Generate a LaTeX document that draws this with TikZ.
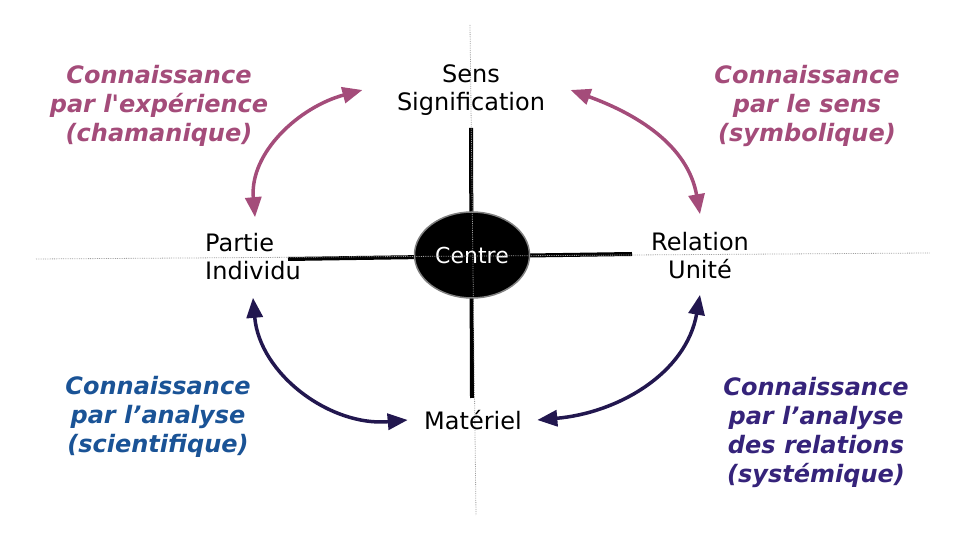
\documentclass[tikz,border=0pt]{standalone}
\usepackage{fontspec}
\setmainfont{DejaVu Sans}
\usetikzlibrary{arrows.meta,positioning,shapes.geometric}
\definecolor{Pk}{HTML}{A44C7A}
\definecolor{Bl}{HTML}{1A5396}
\definecolor{Pu}{HTML}{35237A}
\definecolor{Nv}{HTML}{22174F}
\definecolor{faint}{HTML}{A0A0A0}
\tikzset{
  lbl/.style={font=\fontsize{24}{28}\selectfont, align=center},
  know/.style={font=\fontsize{24}{29}\selectfont\bfseries\itshape, align=center},
  cross/.style={line width=4pt, black},
  guide/.style={faint, densely dotted, line width=0.8pt},
  core/.style={ellipse, fill=black, draw=gray, line width=1.5pt, minimum width=115pt,
    minimum height=86pt, text=white, font=\fontsize{22}{26}\selectfont},
  tip/.tip={Triangle[length=20pt, width=16pt]},
  pklink/.style={tip-tip, line width=3.5pt, Pk},
  nvlink/.style={tip-tip, line width=3.5pt, Nv},
}

\begin{document}
\begin{tikzpicture}[x=1pt, y=1pt]
  \useasboundingbox (0,0) rectangle (960,540);
  \draw[cross] (471,412) -- (472,142);
  \draw[cross] (288,281) -- (632,286);
  \node[core] (centre) at (472,285) {Centre};
  \draw[guide] (36,281) -- (930,287);
  \draw[guide] (470,515) -- (476,25);
  \node[lbl] (sens) at (471,450) {Sens\\Signification};
  \node[lbl, align=left] (partie) at (253,283) {Partie\\Individu};
  \node[lbl] (relation) at (700,284) {Relation\\Unité};
  \node[lbl] (materiel) at (473,120) {Matériel};
  \node[know, Pk] (exp) at (159,434) {Connaissance\\par l\textquotesingle expérience\\(chamanique)};
  \node[know, Pk] (sym) at (807,434) {Connaissance\\par le sens\\(symbolique)};
  \node[know, Bl] (sci) at (158,123) {Connaissance\\par l’analyse\\(scientifique)};
  \node[know, Pu] (sys) at (816,108) {Connaissance\\par l’analyse\\des relations\\(systémique)};
  \draw[pklink] ([xshift=2pt, yshift=13pt]partie.north) to[out=95, in=195] ([xshift=-31pt]sens.west);
  \draw[pklink] ([xshift=22pt]sens.east) to[out=-20, in=100] ([yshift=15pt]relation.north);
  \draw[nvlink] ([yshift=-14pt]partie.south) to[out=-85, in=185] ([xshift=-13pt]materiel.west);
  \draw[nvlink] ([xshift=12pt]materiel.east) to[out=5, in=-100] ([yshift=-12pt]relation.south);
\end{tikzpicture}
\end{document}
